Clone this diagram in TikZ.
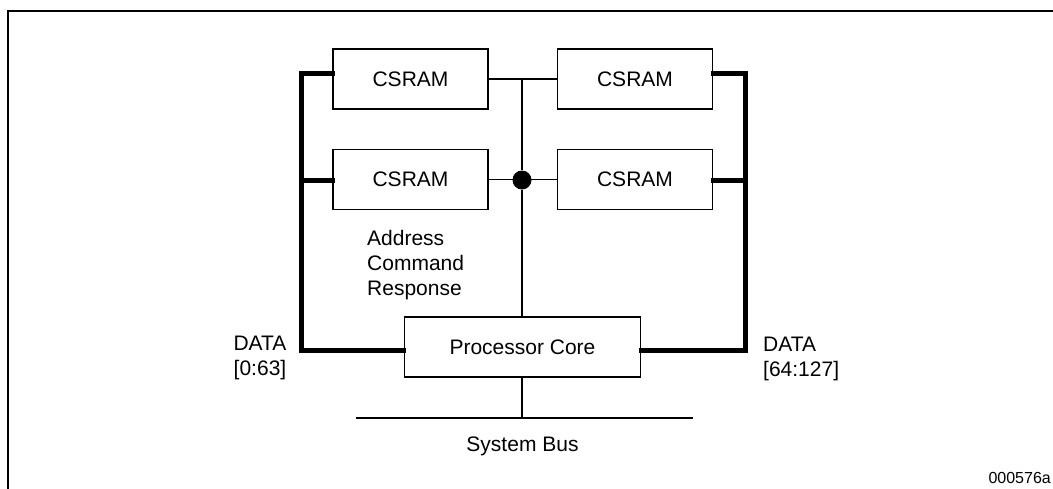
\documentclass[tikz,border=0pt]{standalone}
\usepackage{fontspec}
\setmainfont{Liberation Sans}
\begin{document}
\begin{tikzpicture}[x=1pt,y=-1pt,
  every node/.style={font=\fontsize{21}{25}\selectfont, inner sep=0pt},
  unit/.style={draw, line width=1.5pt, minimum width=155pt, minimum height=60pt},
  core/.style={draw, line width=1.5pt, minimum width=236pt, minimum height=60pt},
  databus/.style={line width=5pt, line cap=rect},
  ctrl/.style={line width=1.7pt},
  frameline/.style={line width=2.3pt},
  lbl/.style={align=left, anchor=north west}]
\useasboundingbox (0,0) rectangle (1053,488);
% partial frame
\draw[frameline] (8,490) -- (8,11) -- (1060,11);

% memory units
\node[unit] (ramA) at (410.5,79) {CSRAM};
\node[unit] (ramB) at (635,79) {CSRAM};
\node[unit] (ramC) at (410.5,179.5) {CSRAM};
\node[unit] (ramD) at (635,179.5) {CSRAM};
\node[core] (cpu) at (522.5,347) {Processor Core};

% junction and bus points
\coordinate (top) at (522,79);
\node[circle, fill=black, minimum size=19pt] (dot) at (522,180) {};
\coordinate (sysL) at (356,418);
\coordinate (sysR) at (693,418);
\coordinate (sysT) at (522,418);

% address / command / response lines
\draw[ctrl] (ramA.east) -- (ramB.west);
\draw[ctrl] (ramC.east) -- (ramD.west);
\draw[ctrl] (top) -- (dot) -- (dot |- cpu.north);
\draw[ctrl] (dot |- cpu.south) -- (sysT);
\draw[ctrl] (sysL) -- (sysR);

% data buses
\coordinate (lcorner) at (301,73.5);
\coordinate (rcorner) at (745,73.5);
\draw[databus] (ramA.west |- lcorner) -- (lcorner) -- (301,350) -- (cpu.west |- 0,350);
\draw[databus] (301,180) -- (ramC.west |- 0,180);
\draw[databus] (ramB.east |- rcorner) -- (rcorner) -- (745,350) -- (cpu.east |- 0,350);
\draw[databus] (745,180) -- (ramD.east |- 0,180);

% labels
\node[lbl, text depth=0pt] (acr) at (367,230) {Address\\Command\\Response};
\node[align=center] (dl) at (260,358) {DATA\\{[0:63]}};
\node[align=left, anchor=west] (dr) at (763,359) {DATA\\{[64:127]}};
\node (sb) at (522.5,446) {System Bus};
\node[font=\fontsize{16}{18}\selectfont, anchor=base east] (fig) at (1051,483) {000576a};
\end{tikzpicture}
\end{document}
